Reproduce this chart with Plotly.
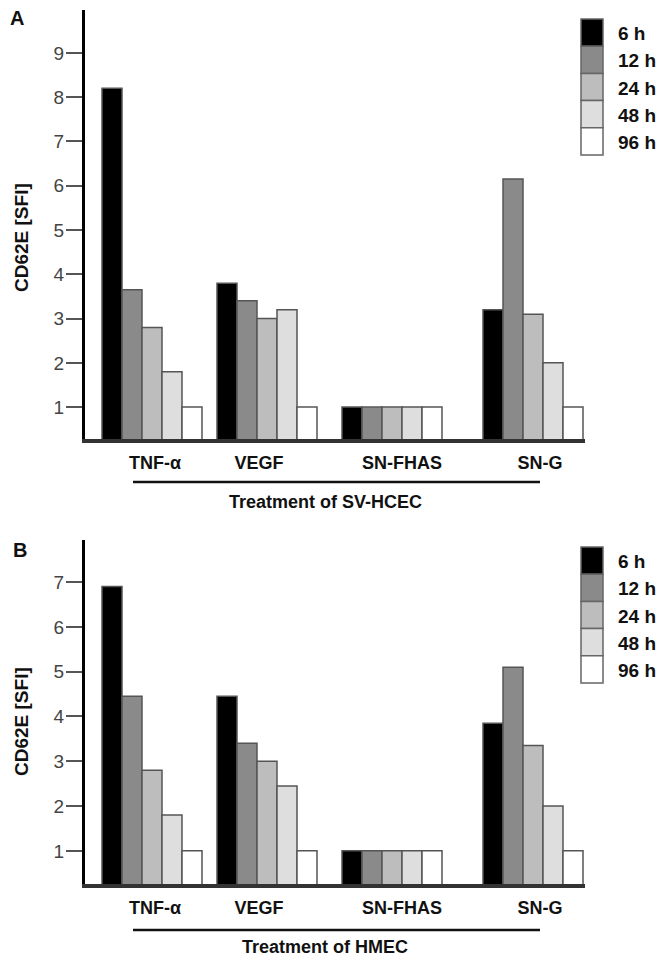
import plotly.graph_objects as go
from plotly.subplots import make_subplots

# ---------------- data ----------------
treatments = ["TNF-α", "VEGF", "SN-FHAS", "SN-G"]
times = ["6 h", "12 h", "24 h", "48 h", "96 h"]

# Panel A: SV-HCEC
a_6h = [8.2, 3.8, 1.0, 3.2]
a_12h = [3.65, 3.4, 1.0, 6.15]
a_24h = [2.8, 3.0, 1.0, 3.1]
a_48h = [1.8, 3.2, 1.0, 2.0]
a_96h = [1.0, 1.0, 1.0, 1.0]

# Panel B: HMEC
b_6h = [6.9, 4.45, 1.0, 3.85]
b_12h = [4.45, 3.4, 1.0, 5.1]
b_24h = [2.8, 3.0, 1.0, 3.35]
b_48h = [1.8, 2.45, 1.0, 2.0]
b_96h = [1.0, 1.0, 1.0, 1.0]

a_ticks = [1, 2, 3, 4, 5, 6, 7, 8, 9]
b_ticks = [1, 2, 3, 4, 5, 6, 7]

# ---------------- layout helpers ----------------
W, H = 666, 956
ML, MR, MT, MB = 85, 81, 10, 72
PW = W - ML - MR
PH = H - MT - MB


def px(x):
    return (x - ML) / PW


def py(y):
    return (H - MB - y) / PH


GROUP_X = [152, 267, 392, 533]
LABEL_X = [155, 259, 402, 540]
BAR_W = 20
colors = ["#000000", "#8a8a8a", "#bdbdbd", "#dedede", "#ffffff"]
FONT = "Liberation Sans, Arial, sans-serif"

fig = make_subplots(rows=2, cols=1)

panels = [
    (1, [a_6h, a_12h, a_24h, a_48h, a_96h]),
    (2, [b_6h, b_12h, b_24h, b_48h, b_96h]),
]
for row, series in panels:
    for i, (name, vals) in enumerate(zip(times, series)):
        fig.add_trace(
            go.Bar(
                x=GROUP_X,
                y=vals,
                name=name,
                width=BAR_W,
                offset=(i - 2.5) * BAR_W,
                marker=dict(color=colors[i], line=dict(color="#555555", width=1.5)),
                showlegend=False,
            ),
            row=row,
            col=1,
        )

xaxis_common = dict(
    range=[ML, W - MR],
    tickvals=LABEL_X,
    ticktext=treatments,
    ticks="",
    tickfont=dict(family=FONT, size=18, color="#111111", weight="bold"),
    showline=True,
    linecolor="#333333",
    linewidth=4,
    showgrid=False,
    zeroline=False,
    ticklabelstandoff=4,
)
yaxis_common = dict(
    showline=True,
    linecolor="#000000",
    linewidth=3,
    ticks="outside",
    ticklen=16,
    tickwidth=1.5,
    tickcolor="#555555",
    tickfont=dict(family=FONT, size=19, color="#444444"),
    showgrid=False,
    zeroline=False,
    ticklabelstandoff=-2,
)

fig.update_layout(
    width=W,
    height=H,
    margin=dict(l=ML, r=MR, t=MT, b=MB),
    paper_bgcolor="white",
    plot_bgcolor="white",
    barmode="overlay",
    xaxis=dict(domain=[0, 1], **xaxis_common),
    xaxis2=dict(domain=[0, 1], **xaxis_common),
    yaxis=dict(domain=[py(439), 1], range=[0.28, 9.97], tickvals=a_ticks, **yaxis_common),
    yaxis2=dict(domain=[0, py(540)], range=[0.26, 7.94], tickvals=b_ticks, **yaxis_common),
)

shapes = []
annotations = []

# treatment lines + titles
for line_y, text_y, label in [(482, 502, "Treatment of SV-HCEC"), (930, 947, "Treatment of HMEC")]:
    shapes.append(dict(type="line", xref="paper", yref="paper",
                       x0=px(133), x1=px(540), y0=py(line_y), y1=py(line_y),
                       line=dict(color="#111111", width=2.5)))
    annotations.append(dict(xref="paper", yref="paper", x=px(325), y=py(text_y),
                            text=label, showarrow=False, xanchor="center", yanchor="middle",
                            font=dict(family=FONT, size=18, color="#111111", weight="bold")))

# y titles
for cy in [238, 722]:
    annotations.append(dict(xref="paper", yref="paper", x=px(21), y=py(cy),
                            text="CD62E [SFI]", textangle=-90, showarrow=False,
                            xanchor="center", yanchor="middle",
                            font=dict(family=FONT, size=19, color="#111111", weight="bold")))

# panel letters
for (lx, ly, t) in [(17, 18, "A"), (20, 550, "B")]:
    annotations.append(dict(xref="paper", yref="paper", x=px(lx), y=py(ly), text=t,
                            showarrow=False, xanchor="center", yanchor="middle",
                            font=dict(family=FONT, size=20, color="#111111", weight="bold")))

# legends (drawn as stacked boxes)
for top in [19, 547]:
    step = 27.2
    for i, name in enumerate(times):
        y0 = top + i * step
        shapes.append(dict(type="rect", xref="paper", yref="paper",
                           x0=px(581), x1=px(603), y0=py(y0 + step), y1=py(y0),
                           fillcolor=colors[i], line=dict(color="#666666", width=1.5)))
        annotations.append(dict(xref="paper", yref="paper", x=px(616), y=py(y0 + step / 2 + 1),
                                text=name, showarrow=False, xanchor="left", yanchor="middle",
                                font=dict(family=FONT, size=19, color="#111111", weight="bold")))

fig.update_layout(shapes=shapes, annotations=annotations)

fig.write_html(
    "out.html",
    config={"displayModeBar": False},
    post_script="document.body.style.margin='0';document.body.style.overflow='hidden';",
)
